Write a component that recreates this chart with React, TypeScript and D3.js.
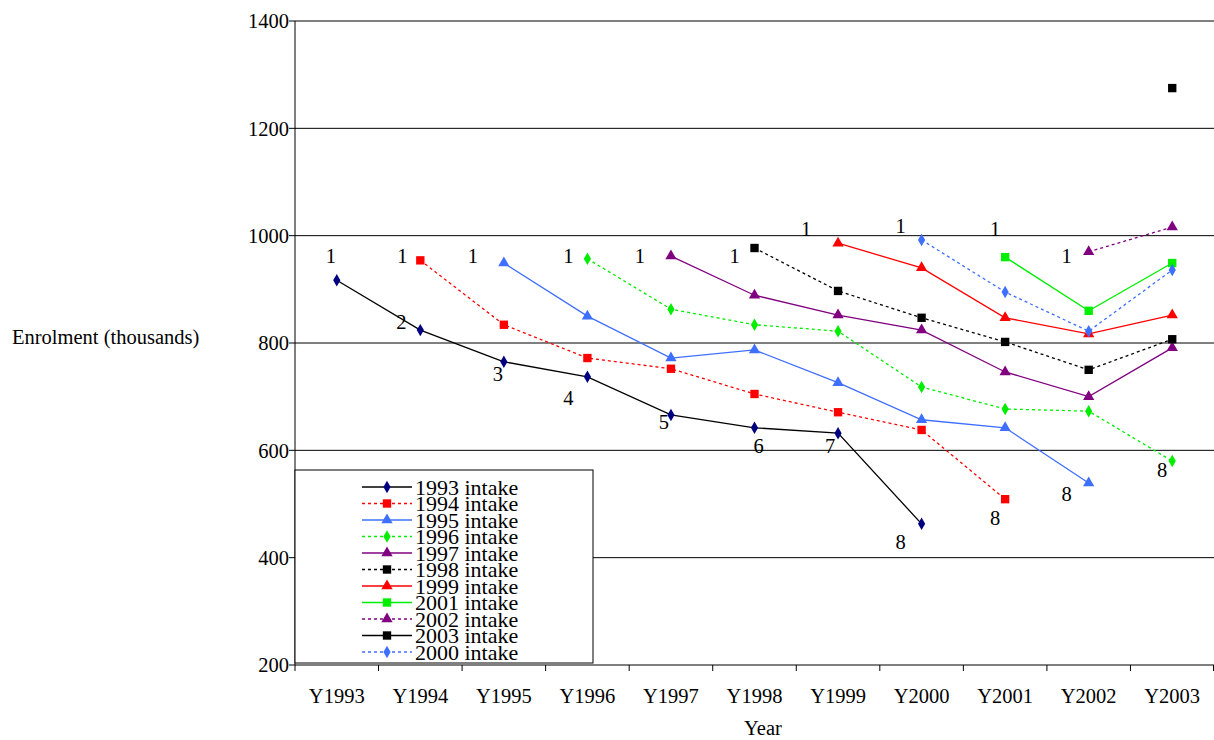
import * as d3 from "d3";

const years = ["Y1993", "Y1994", "Y1995", "Y1996", "Y1997", "Y1998", "Y1999", "Y2000", "Y2001", "Y2002", "Y2003"];
const yTicks = [200, 400, 600, 800, 1000, 1200, 1400];

type Series = { name: string; start: number; values: number[]; color: string; marker: string; dash: string; lineColor?: string };

const series: Series[] = [
  { name: "1993 intake", start: 0, values: [917, 824, 765, 737, 666, 642, 632, 463], color: "#000080", lineColor: "#000000", marker: "diamond", dash: "" },
  { name: "1994 intake", start: 1, values: [954, 834, 772, 752, 705, 671, 638, 509], color: "#FF0000", marker: "square", dash: "3,3" },
  { name: "1995 intake", start: 2, values: [949, 850, 772, 787, 726, 657, 642, 539], color: "#3F6FFF", marker: "triangle", dash: "" },
  { name: "1996 intake", start: 3, values: [957, 863, 834, 822, 718, 677, 673, 580], color: "#00EE00", marker: "diamond", dash: "3,3" },
  { name: "1997 intake", start: 4, values: [962, 889, 852, 824, 746, 700, 791], color: "#800080", marker: "triangle", dash: "" },
  { name: "1998 intake", start: 5, values: [977, 897, 847, 802, 750, 807], color: "#000000", marker: "square", dash: "3,3" },
  { name: "1999 intake", start: 6, values: [986, 940, 847, 817, 852], color: "#FF0000", marker: "triangle", dash: "" },
  { name: "2001 intake", start: 8, values: [960, 860, 949], color: "#00EE00", marker: "square", dash: "" },
  { name: "2002 intake", start: 9, values: [970, 1016], color: "#800080", marker: "triangle", dash: "3,3" },
  { name: "2003 intake", start: 10, values: [1275], color: "#000000", marker: "square", dash: "" },
  { name: "2000 intake", start: 7, values: [992, 895, 822, 936], color: "#3F6FFF", marker: "diamond", dash: "3,3" },
];

// data labels: text, category, value, x nudge
const labels: [string, string, number, number][] = [
  ["1", "Y1993", 962, -6], ["1", "Y1994", 962, -18], ["1", "Y1995", 962, -31], ["1", "Y1996", 962, -19],
  ["1", "Y1997", 962, -31], ["1", "Y1998", 962, -20], ["1", "Y1999", 1012, -32], ["1", "Y2000", 1018, -21],
  ["1", "Y2001", 1012, -10], ["1", "Y2002", 962, -22],
  ["2", "Y1994", 839, -19], ["3", "Y1995", 742, -6], ["4", "Y1996", 698, -19], ["5", "Y1997", 653, -7],
  ["6", "Y1998", 608, 4], ["7", "Y1999", 608, -8], ["8", "Y2000", 429, -21], ["8", "Y2001", 474, -10],
  ["8", "Y2002", 519, -22], ["8", "Y2003", 563, -10],
];

const left = 295, right = 1214, top = 21, bottom = 665;
const FONT = "Liberation Serif, Tinos, DejaVu Serif, Times New Roman, serif";
const FS = 20.5;
const LEGEND_FS = 22;

function Marker({ type, x, y, color }: { type: string; x: number; y: number; color: string }) {
  const sym = type === "diamond" ? d3.symbolDiamond : type === "triangle" ? d3.symbolTriangle : d3.symbolSquare;
  const size = type === "diamond" ? 45 : type === "triangle" ? 55 : 70;
  return <path d={d3.symbol(sym, size)()!} transform={`translate(${x},${y})`} fill={color} />;
}

export default function App() {
  const x = d3.scaleBand().domain(years).range([left, right]);
  const y = d3.scaleLinear().domain([200, 1400]).range([bottom, top]);
  const cx = (c: string) => x(c)! + x.bandwidth() / 2;

  return (
    <svg width={1214} height={740} style={{ position: "absolute", left: 0, top: 0, background: "#fff", fontFamily: FONT }}>
      {yTicks.map((t) => (
        <g key={t}>
          <line x1={left} x2={right} y1={y(t)} y2={y(t)} stroke="#000" />
          <line x1={left - 6} x2={left} y1={y(t)} y2={y(t)} stroke="#000" />
          <text x={left - 6} y={y(t)} dy="0.35em" textAnchor="end" fontSize={FS}>{t}</text>
        </g>
      ))}
      <line x1={left} x2={left} y1={top} y2={bottom} stroke="#000" />
      {years.map((c, i) => (
        <g key={c}>
          <line x1={x(c)!} x2={x(c)!} y1={bottom} y2={bottom + 6} stroke="#000" />
          {i === years.length - 1 && <line x1={right - 0.5} x2={right - 0.5} y1={bottom} y2={bottom + 6} stroke="#000" />}
          <text x={cx(c)} y={bottom + 38} textAnchor="middle" fontSize={FS}>{c}</text>
        </g>
      ))}
      <text x={763} y={735} textAnchor="middle" fontSize={FS}>Year</text>
      <text x={12} y={344} fontSize={FS}>Enrolment (thousands)</text>

      {series.map((s) => {
        const pts = s.values.map((v, i) => [cx(years[s.start + i]), y(v)] as [number, number]);
        return (
          <g key={s.name}>
            <path d={d3.line()(pts)!} fill="none" stroke={s.lineColor ?? s.color} strokeWidth={1.3} strokeDasharray={s.dash} />
            {pts.map((p, i) => <Marker key={i} type={s.marker} x={p[0]} y={p[1]} color={s.color} />)}
          </g>
        );
      })}

      {labels.map(([t, c, v, dx], i) => (
        <text key={i} x={cx(c) + dx} y={y(v)} dy="0.35em" textAnchor="middle" fontSize={FS}>{t}</text>
      ))}

      <rect x={left} y={470} width={298} height={193} fill="#fff" stroke="#000" />
      {series.map((s, i) => {
        const ly = 487 + i * 16.5;
        return (
          <g key={s.name}>
            <line x1={362} x2={412} y1={ly} y2={ly} stroke={s.lineColor ?? s.color} strokeWidth={1.3} strokeDasharray={s.dash} />
            <Marker type={s.marker} x={387} y={ly} color={s.color} />
            <text x={415} y={ly} dy="0.35em" fontSize={LEGEND_FS}>{s.name}</text>
          </g>
        );
      })}
    </svg>
  );
}
